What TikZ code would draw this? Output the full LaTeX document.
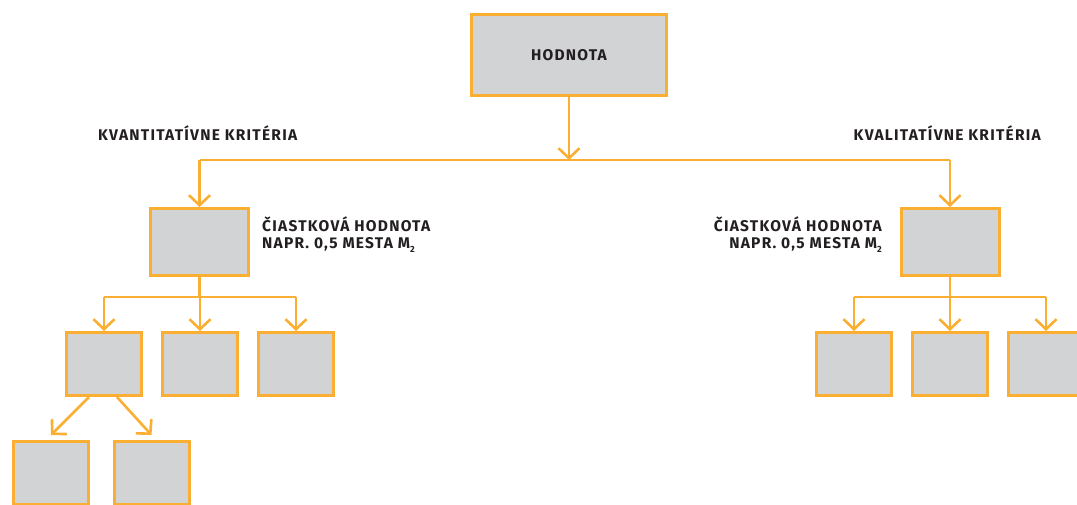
\documentclass[tikz,border=0pt]{standalone}
\usepackage{fontspec}
\setmainfont{Fira Sans}[LetterSpace=8]
\usetikzlibrary{arrows.meta}
\definecolor{oranz}{RGB}{250,174,50}
\definecolor{seda}{RGB}{210,211,213}
\definecolor{text}{RGB}{35,31,32}
\newcommand{\dolny}[1]{\raisebox{-0.5ex}{\fontsize{9}{9}\selectfont #1}}
\begin{document}
\begin{tikzpicture}[x=1pt, y=-1pt,
    box/.style={draw=oranz, fill=seda, line width=3pt, inner sep=0pt},
    hlp/.style={box, minimum width=195pt, minimum height=81pt},
    mid/.style={box, minimum width=98pt, minimum height=67pt},
    mal/.style={box, minimum width=75pt, minimum height=63pt},
    txt/.style={text=text, font=\fontsize{15.5}{17}\selectfont\bfseries, inner sep=0pt},
    ciara/.style={draw=oranz, line width=2.6pt},
    sip/.style={ciara, -{Straight Barb[length=10pt, width=21pt, line width=2.6pt]}}]
\useasboundingbox (0,0) rectangle (1077,504);
\clip (0,0) rectangle (1077,504);
% hodnota
\node[hlp, txt] (top) at (569,55) {HODNOTA};
\coordinate (bus) at (0,160);
\node[txt, anchor=west] (kvant) at (98,133) {KVANTITATÍVNE KRITÉRIA};
\node[txt, anchor=east] (kval) at (1041,133) {KVALITATÍVNE KRITÉRIA};
% ciastkove hodnoty
\node[mid] (mL) at (199.5,242) {};
\node[mid] (mR) at (950,242) {};
\node[txt, anchor=west, align=left] (popL) at (262,235) {ČIASTKOVÁ HODNOTA\\NAPR. 0,5 MESTA M\dolny{2}};
\node[txt, anchor=east, align=right] (popR) at (882,235) {ČIASTKOVÁ HODNOTA\\NAPR. 0,5 MESTA M\dolny{2}};
\draw[ciara] (mL.north |- bus) -- (mR.north |- bus);
\draw[sip] (top.south) -- (top.south |- bus);
\draw[sip] (mL.north |- bus) -- (mL.north);
\draw[sip] (mR.north |- bus) -- (mR.north);
% druha uroven
\coordinate (busd) at (0,297);
\foreach \n/\x in {l1/104, l2/200, l3/296, r1/854, r2/950, r3/1046}
  \node[mal] (\n) at (\x,364) {};
\node[mal] (b1) at (51,473) {};
\node[mal] (b2) at (151.5,473) {};
\draw[ciara] (l1.north |- busd) -- (l3.north |- busd);
\draw[ciara] (r1.north |- busd) -- (r3.north |- busd);
\draw[ciara] (mL.south) -- (mL.south |- busd);
\draw[ciara] (mR.south) -- (mR.south |- busd);
\foreach \n in {l1, l2, l3, r1, r2, r3}
  \draw[sip] (\n.north |- busd) -- (\n.north);
\draw[sip] ([xshift=-15pt]l1.south) -- ([yshift=5pt]b1.north);
\draw[sip] ([xshift=13pt]l1.south) -- ([yshift=5pt]b2.north);
\end{tikzpicture}
\end{document}
